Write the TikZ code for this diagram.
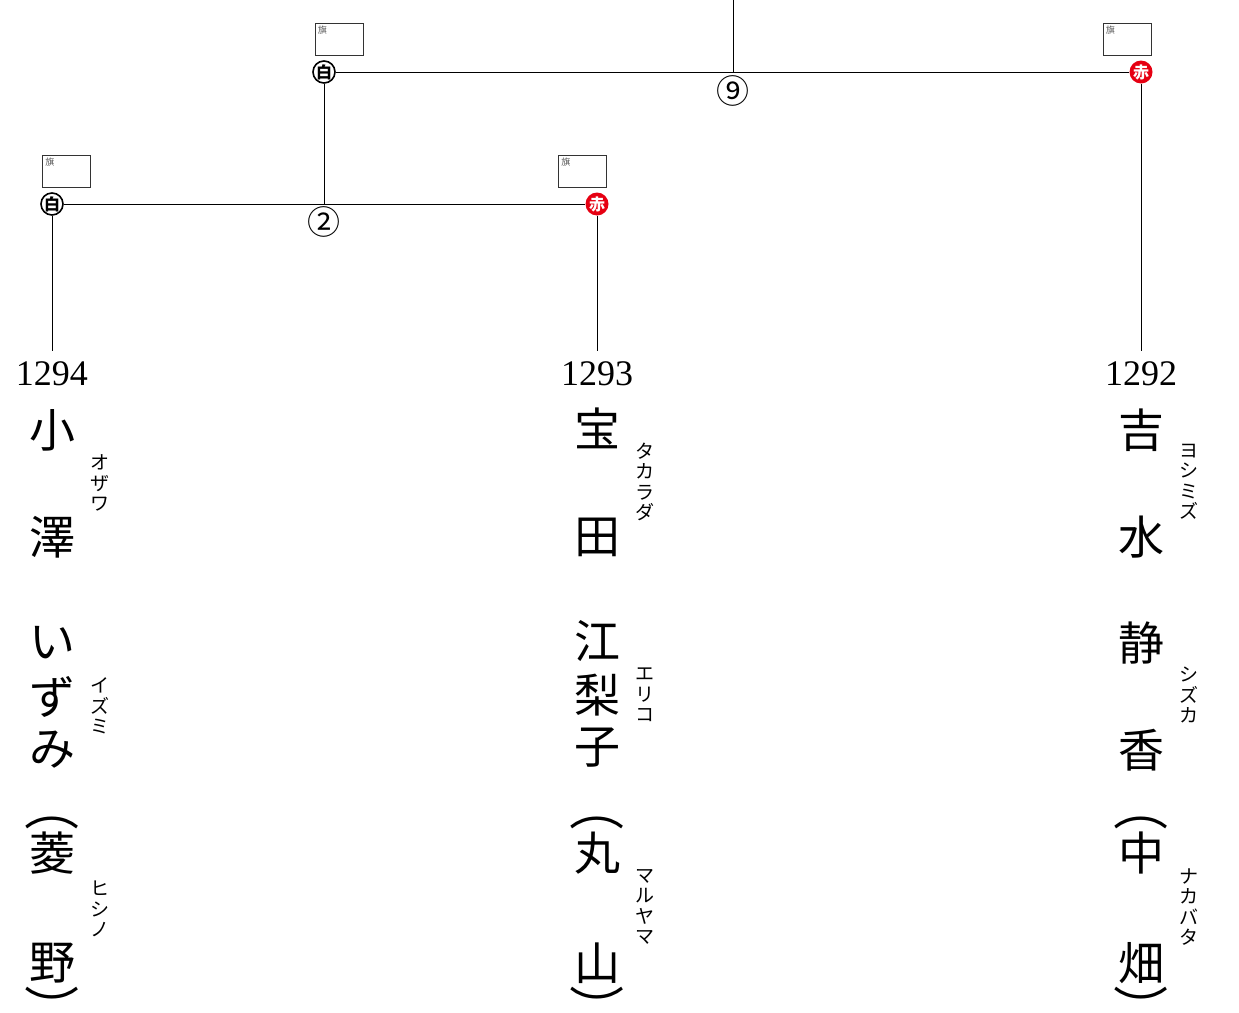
\documentclass[tikz,border=0pt]{standalone}
\usepackage{fontspec}
\usetikzlibrary{calc}
\newfontfamily\jp{Noto Sans CJK JP}
\newfontfamily\numfont{Liberation Serif}
\definecolor{akared}{RGB}{230,0,18}
\newcommand{\vopen}{\raisebox{0pt}[0.26em][0em]{︵}}
\newcommand{\vclose}{\raisebox{-0.5em}[0.26em][0em]{︶}}
\tikzset{
  x=1pt,y=-1pt,
  big/.style={font=\jp\fontsize{46}{46}\selectfont,inner sep=0pt,anchor=center},
  vparen/.style={font=\jp\fontsize{46}{46}\selectfont,inner sep=0pt,anchor=center,xscale=1.2},
  kana/.style={font=\jp\fontsize{19}{20.5}\selectfont,inner sep=0pt,align=center,anchor=center},
  num/.style={font=\numfont\fontsize{36}{36}\selectfont,inner sep=0pt,anchor=center},
  whitec/.style={circle,draw=black,line width=1.6pt,fill=white,minimum size=22pt,inner sep=0pt,font=\jp\bfseries\fontsize{16}{16}\selectfont},
  redc/.style={circle,fill=akared,text=white,minimum size=23pt,inner sep=0pt,font=\jp\bfseries\fontsize{16}{16}\selectfont},
  flagbox/.style={draw=black!80,line width=0.6pt,minimum width=48pt,minimum height=32pt,inner sep=0pt},
  flagtxt/.style={font=\jp\fontsize{9}{9}\selectfont,text=black!65,inner sep=0pt,anchor=north west},
  circnum/.style={font=\jp\fontsize{33}{33}\selectfont,inner sep=0pt,anchor=center},
  ln/.style={line width=0.8pt,black}
}
\begin{document}
\begin{tikzpicture}
\useasboundingbox (0,0) rectangle (1239,1012);
% circles
\node[whitec] (w9) at (324,72) {白};
\node[redc] (r9) at (1141,72) {赤};
\node[whitec] (w2) at (52,204) {白};
\node[redc] (r2) at (597,204) {赤};
\coordinate (top) at (733,0);
\coordinate (j9) at (733,72);
\coordinate (j2) at (324,204);
% flags
\node[flagbox] (f9w) at (339,39) {};
\node[flagtxt] at ($(f9w.north west)+(3,3)$) {旗};
\node[flagbox] (f9r) at (1127,39) {};
\node[flagtxt] at ($(f9r.north west)+(3,3)$) {旗};
\node[flagbox] (f2w) at (66.5,171) {};
\node[flagtxt] at ($(f2w.north west)+(3,3)$) {旗};
\node[flagbox] (f2r) at (582.5,171) {};
\node[flagtxt] at ($(f2r.north west)+(3,3)$) {旗};
% round numbers
\node[circnum] (c9) at (733,91) {⑨};
\node[circnum] (c2) at (324,222) {②};
% player numbers
\node[num] (n1294) at (52,374) {1294};
\node[num] (n1293) at (597,374) {1293};
\node[num] (n1292) at (1141,374) {1292};
% lines
\draw[ln] (top) -- (j9);
\draw[ln] (w9) -- (r9);
\draw[ln] (w9) -- (j2);
\draw[ln] (w2) -- (r2);
\draw[ln] (w2) -- ($(w2 |- n1294.north)+(0,-11)$);
\draw[ln] (r2) -- ($(r2 |- n1293.north)+(0,-11)$);
\draw[ln] (r9) -- ($(r9 |- n1292.north)+(0,-11)$);
% column 1
\node[big] (a1) at (52,430) {小};
\node[big] (a2) at (52,537) {澤};
\node[big] (a3) at (52,643) {い};
\node[big] (a4) at (52,697) {ず};
\node[big] (a5) at (52,750) {み};
\node[vparen] (a6) at (52,820) {\vopen};
\node[big] (a7) at (52,853) {菱};
\node[big] (a8) at (52,963) {野};
\node[vparen] (a9) at (52,997) {\vclose};
\node[kana] (k1) at (100,483) {オ\\ザ\\ワ};
\node[kana] (k2) at (100,706) {イ\\ズ\\ミ};
\node[kana] (k3) at (100,909) {ヒ\\シ\\ノ};
% column 2
\node[big] (b1) at (597,428) {宝};
\node[big] (b2) at (597,537) {田};
\node[big] (b3) at (597,641) {江};
\node[big] (b4) at (597,695) {梨};
\node[big] (b5) at (597,748) {子};
\node[vparen] (b6) at (597,820) {\vopen};
\node[big] (b7) at (597,853) {丸};
\node[big] (b8) at (597,963) {山};
\node[vparen] (b9) at (597,997) {\vclose};
\node[kana] (k4) at (645,482) {タ\\カ\\ラ\\ダ};
\node[kana] (k5) at (645,695) {エ\\リ\\コ};
\node[kana] (k6) at (645,907) {マ\\ル\\ヤ\\マ};
% column 3
\node[big] (c1) at (1141,430) {吉};
\node[big] (c2x) at (1141,537) {水};
\node[big] (c3) at (1141,643) {静};
\node[big] (c4) at (1141,750) {香};
\node[vparen] (c6) at (1141,820) {\vopen};
\node[big] (c7) at (1141,853) {中};
\node[big] (c8) at (1141,963) {畑};
\node[vparen] (c9x) at (1141,997) {\vclose};
\node[kana] (k7) at (1189,482) {ヨ\\シ\\ミ\\ズ};
\node[kana] (k8) at (1189,695) {シ\\ズ\\カ};
\node[kana] (k9) at (1189,907) {ナ\\カ\\バ\\タ};
\end{tikzpicture}
\end{document}
